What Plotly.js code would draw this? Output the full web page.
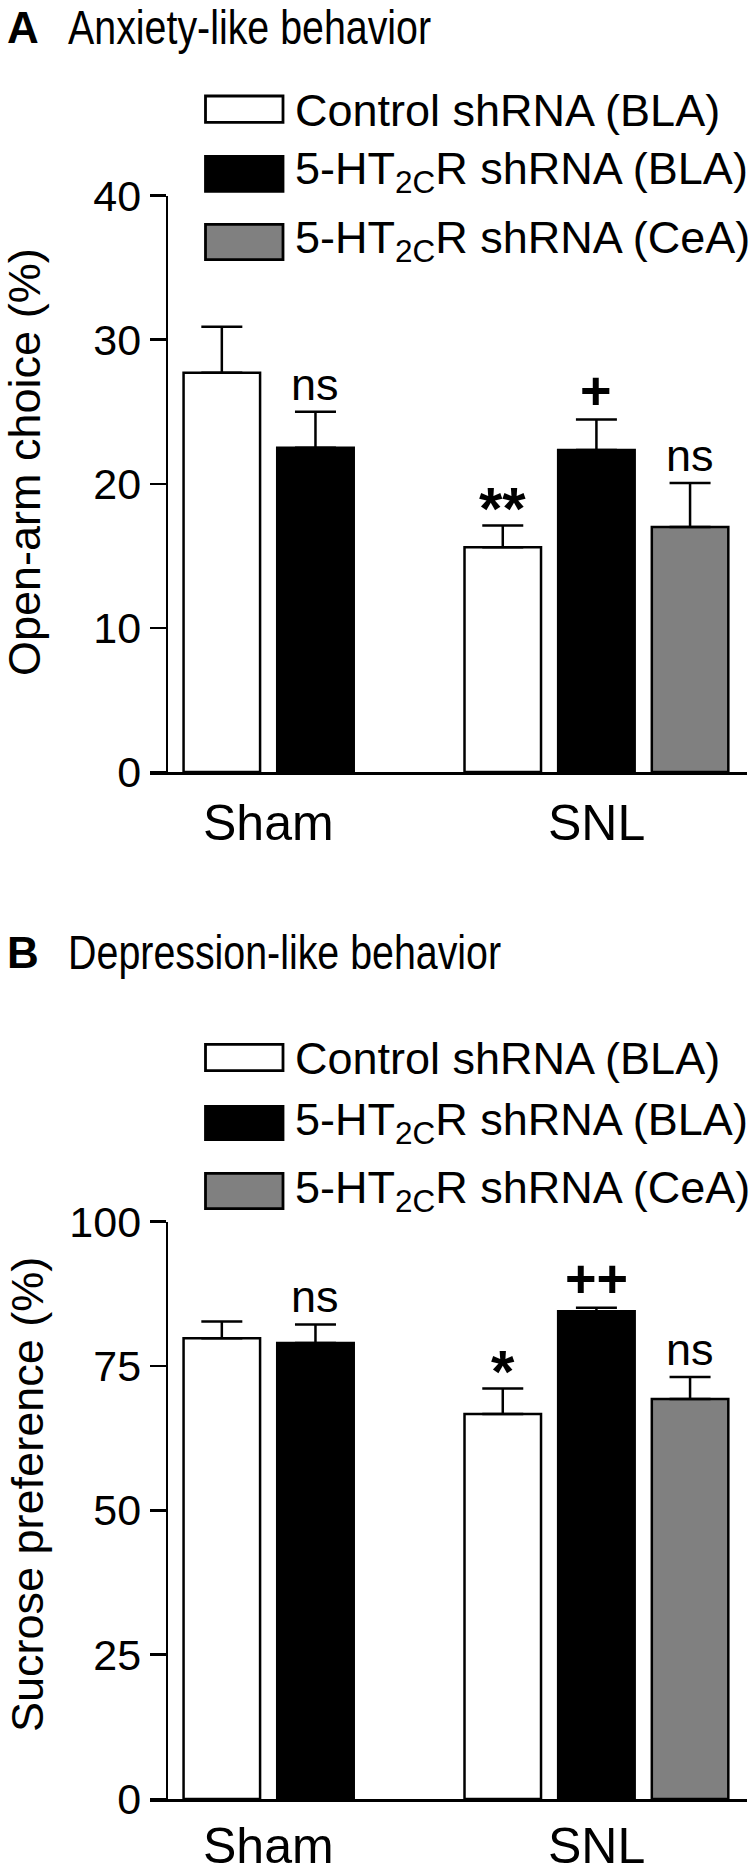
<!DOCTYPE html>
<html><head><meta charset="utf-8">
<script src="https://cdn.plot.ly/plotly-3.0.1.min.js"></script>
<style>html,body{margin:0;padding:0;background:#fff}</style>
</head><body>
<div id="chart" style="width:750px;height:1876px"></div>
<script>
// ---------------- data ----------------
const categories = ['Sham', 'SNL'];
const seriesNames = ['Control shRNA (BLA)', '5-HT<sub>2C</sub>R shRNA (BLA)', '5-HT<sub>2C</sub>R shRNA (CeA)'];
const seriesColors = ['#ffffff', '#000000', '#808080'];

const anxietyLetter = 'A';
const anxietyTitle = 'Anxiety-like behavior';
const anxietyYLabel = 'Open-arm choice (%)';
const anxietyTicks = [0, 10, 20, 30, 40];
const anxietyCtrlMean = [27.7, 15.6];
const anxietyCtrlSem = [3.2, 1.5];
const anxietyBlaMean = [22.5, 22.35];
const anxietyBlaSem = [2.5, 2.1];
const anxietyCeaMean = [null, 17.0];
const anxietyCeaSem = [null, 3.05];
const anxietyCtrlSig = ['', '**'];
const anxietyBlaSig = ['ns', '+'];
const anxietyCeaSig = ['', 'ns'];

const depressionLetter = 'B';
const depressionTitle = 'Depression-like behavior';
const depressionYLabel = 'Sucrose preference (%)';
const depressionTicks = [0, 25, 50, 75, 100];
const sucroseCtrlMean = [79.8, 66.7];
const sucroseCtrlSem = [2.9, 4.4];
const sucroseBlaMean = [79.0, 84.5];
const sucroseBlaSem = [3.2, 0.6];
const sucroseCeaMean = [null, 69.3];
const sucroseCeaSem = [null, 3.8];
const sucroseCtrlSig = ['', '*'];
const sucroseBlaSig = ['ns', '++'];
const sucroseCeaSig = ['', 'ns'];

// ---------------- layout helpers ----------------
const W = 750, H = 1876;
const FONT = 'Liberation Sans, Arial, Helvetica, sans-serif';
const px = v => v / W;
const py = v => 1 - v / H;

const TITLE_SIZE = 48, TITLE_SCALE = 0.82;   // titles are set condensed
const LABEL_SIZE = 50, LEGEND_SIZE = 45;

const panels = [
  {letter: anxietyLetter, title: anxietyTitle, ylabel: anxietyYLabel, ticks: anxietyTicks,
   means: [anxietyCtrlMean, anxietyBlaMean, anxietyCeaMean],
   sems: [anxietyCtrlSem, anxietyBlaSem, anxietyCeaSem],
   sigs: [anxietyCtrlSig, anxietyBlaSig, anxietyCeaSig],
   plotTop: 195.5, plotBottom: 772, titleY: 27.5, ytitleX: 25, ytitleY: 462,
   boxTop: [94.7, 155, 223], boxBottom: [123.7, 192.7, 261], textBase: [124.5, 183, 252]},
  {letter: depressionLetter, title: depressionTitle, ylabel: depressionYLabel, ticks: depressionTicks,
   means: [sucroseCtrlMean, sucroseBlaMean, sucroseCeaMean],
   sems: [sucroseCtrlSem, sucroseBlaSem, sucroseCeaSem],
   sigs: [sucroseCtrlSig, sucroseBlaSig, sucroseCeaSig],
   plotTop: 1221.7, plotBottom: 1799, titleY: 952, ytitleX: 27, ytitleY: 1495,
   boxTop: [1043, 1105, 1172], boxBottom: [1072, 1141, 1210], textBase: [1073, 1134, 1202]}
];

const AX_LEFT = 150, AX_RIGHT = 747, YAXIS_X = 166.7;
const markStyle = {
  'n': {size: 45, bold: false, shift: 0},
  '*': {size: 60, bold: true, shift: -18},
  '+': {size: 54, bold: true, shift: -2}
};

const traces = [];
const annotations = [];
const shapes = [];
const titleIdx = [];
const layout = {
  width: W, height: H, autosize: false,
  margin: {l: 0, r: 0, t: 0, b: 0},
  paper_bgcolor: '#fff', plot_bgcolor: 'rgba(0,0,0,0)',
  barmode: 'group', bargap: 0, bargroupgap: 0.183,
  showlegend: false,
  font: {family: FONT, color: '#000'},
  annotations: annotations, shapes: shapes
};

panels.forEach((p, k) => {
  const sfx = k === 0 ? '' : String(k + 1);
  const xa = 'x' + sfx, ya = 'y' + sfx;
  const nSeries = p.means.length;

  p.means.forEach((m, s) => {
    traces.push({
      type: 'bar', x: categories, y: m, xaxis: xa, yaxis: ya,
      name: seriesNames[s].replace(/<[^>]+>/g, ''),
      marker: {color: seriesColors[s], line: {color: '#000', width: 2.5}},
      error_y: {type: 'data', array: p.sems[s], arrayminus: p.sems[s].map(v => v == null ? null : 0),
                symmetric: false, color: '#000', thickness: 2.5, width: 20.5},
      hoverinfo: 'skip', showlegend: false
    });
    // significance marks
    p.sigs[s].forEach((txt, g) => {
      if (!txt || m[g] == null) return;
      const st = markStyle[txt[0]];
      annotations.push({
        xref: xa, yref: ya, x: g + (s - (nSeries - 1) / 2) / nSeries, y: m[g] + p.sems[s][g],
        text: st.bold ? '<b>' + txt + '</b>' : txt, showarrow: false,
        xanchor: 'center', yanchor: 'bottom', yshift: st.shift,
        font: {size: st.size, family: FONT, color: '#000'}
      });
    });
  });

  // group labels, centred under that group's existing bars
  const labelBase = p.plotBottom + 69;
  const labelBottom = Math.min(H, labelBase + LABEL_SIZE * 0.212 + 1);
  categories.forEach((c, g) => {
    const offs = [];
    p.means.forEach((m, s) => { if (m[g] != null) offs.push((s - (nSeries - 1) / 2) / nSeries); });
    const xc = g + offs.reduce((a, b) => a + b, 0) / offs.length;
    annotations.push({
      xref: xa, yref: 'paper', x: xc, y: py(labelBottom), text: c, showarrow: false,
      xanchor: 'center', yanchor: 'bottom', font: {size: LABEL_SIZE, family: FONT, color: '#000'}
    });
  });

  layout['xaxis' + sfx] = {
    domain: [px(AX_LEFT), px(AX_RIGHT)], anchor: ya, type: 'category',
    range: [-0.589, 1.536], showline: true, linecolor: '#000', linewidth: 2.5,
    ticks: '', showticklabels: false, showgrid: false, zeroline: false, fixedrange: true
  };
  layout['yaxis' + sfx] = {
    domain: [py(p.plotBottom), py(p.plotTop)], anchor: 'free', position: px(YAXIS_X),
    range: [p.ticks[0], p.ticks[p.ticks.length - 1]], tickmode: 'array', tickvals: p.ticks,
    ticks: 'outside', ticklen: 16, tickwidth: 2.5, tickcolor: '#000',
    showline: true, linecolor: '#000', linewidth: 2.5, showgrid: false, zeroline: false,
    tickfont: {size: 43, family: FONT, color: '#000'}, fixedrange: true
  };

  // panel letter and title
  annotations.push({xref: 'paper', yref: 'paper', x: px(5), y: py(p.titleY), text: '<b>' + p.letter + '</b>',
    showarrow: false, xanchor: 'left', yanchor: 'middle', font: {size: 44, family: FONT, color: '#000'}});
  titleIdx.push(annotations.length);
  annotations.push({xref: 'paper', yref: 'paper', x: px(66), y: py(p.titleY), text: p.title,
    showarrow: false, xanchor: 'left', yanchor: 'middle', font: {size: TITLE_SIZE, family: FONT, color: '#000'}});
  // y title
  annotations.push({xref: 'paper', yref: 'paper', x: px(p.ytitleX), y: py(p.ytitleY), text: p.ylabel,
    textangle: -90, showarrow: false, xanchor: 'center', yanchor: 'middle',
    font: {size: 45, family: FONT, color: '#000'}});

  // legend
  seriesNames.forEach((nm, s) => {
    shapes.push({type: 'rect', xref: 'paper', yref: 'paper',
      x0: px(205.5), x1: px(283), y0: py(p.boxBottom[s] - 1.3), y1: py(p.boxTop[s] + 1.3),
      fillcolor: seriesColors[s], line: {color: '#000', width: 2.8}});
    annotations.push({xref: 'paper', yref: 'paper', x: px(293), y: py(p.textBase[s] - LEGEND_SIZE * 0.905 - 1),
      text: nm, showarrow: false, xanchor: 'left', yanchor: 'top',
      font: {size: LEGEND_SIZE, family: FONT, color: '#000'}});
  });
});

Plotly.newPlot('chart', traces, layout, {staticPlot: true, displayModeBar: false}).then(gd => {
  // condense the panel titles horizontally, keeping their left edge
  titleIdx.forEach(i => {
    const t = gd.querySelector('.annotation[data-index="' + i + '"] text');
    if (t) {
      t.style.transformBox = 'fill-box';
      t.style.transformOrigin = '0% 50%';
      t.style.transform = 'scaleX(' + TITLE_SCALE + ')';
    }
  });
});
</script>
</body></html>
